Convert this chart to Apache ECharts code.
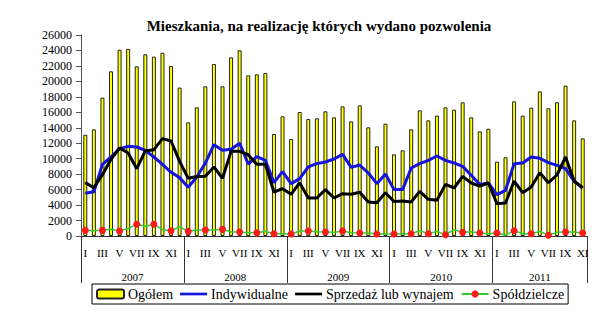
<!DOCTYPE html>
<html>
<head>
<meta charset="utf-8">
<script src="https://cdn.jsdelivr.net/npm/echarts@6/dist/echarts.min.js"></script>
<style>html,body{margin:0;padding:0;background:#fff;}#c{width:600px;height:324px;}</style>
</head>
<body>
<div id="c"></div>
<script>
var years = ['2007', '2008', '2009', '2010', '2011'];
var romans = ['I', 'II', 'III', 'IV', 'V', 'VI', 'VII', 'VIII', 'IX', 'X', 'XI', 'XII'];
var categories = [];
for (var y = 0; y < years.length; y++) {
  var nm = (y === 4) ? 11 : 12;
  for (var m = 0; m < nm; m++) categories.push(years[y] + '-' + romans[m]);
}
var ogolem = [
  13100, 13800, 17900, 21300, 24100, 24200, 21950, 23500, 23200, 23700, 22000, 19200,
  14700, 16640, 19360, 22250, 19360, 23110, 24020, 20780, 20910, 21090, 13190, 15480,
  12550, 16040, 15130, 15220, 16130, 15350, 16770, 14830, 16900, 14060, 11600, 14530,
  10560, 11080, 13800, 16260, 14960, 15570, 16640, 16340, 17290, 15350, 13540, 13880,
  9620, 10180, 17420, 15570, 16600, 18710, 16520, 17290, 19450, 14960, 12630
];
var indywidualne = [
  5520, 5730, 9270, 10220, 11300, 11600, 11510, 11080, 10220, 9270, 8240, 7550,
  6300, 7630, 9440, 11810, 11080, 11210, 11990, 9310, 10260, 9790, 6900, 8320,
  6770, 7420, 8930, 9360, 9570, 9960, 10560, 8880, 9180, 8150, 6770, 8030,
  6000, 6000, 8800, 9360, 9790, 10350, 9790, 9440, 9010, 7850, 6680, 6860,
  5350, 5910, 9360, 9440, 10220, 10050, 9490, 9140, 8710, 7070, 6250
];
var sprzedaz = [
  6900, 6250, 7930, 9920, 11380, 10740, 8710, 11000, 11170, 12590, 12290, 9660,
  7460, 7700, 7720, 8930, 7460, 10950, 10950, 10520, 9270, 9270, 5690, 6120,
  5390, 6900, 4920, 4920, 5990, 4920, 5480, 5390, 5650, 4400, 4310, 5600,
  4470, 4530, 4400, 5780, 4740, 4610, 6680, 6210, 7720, 6860, 6470, 6860,
  4180, 4270, 7110, 5600, 6340, 8190, 6900, 7890, 10220, 7110, 6210
];
var spoldzielcze = [
  730, 690, 730, 860, 650, 990, 1510, 1250, 1510, 820, 690, 1200,
  600, 730, 780, 780, 860, 520, 520, 430, 430, 600, 300, 300,
  260, 650, 650, 560, 520, 470, 650, 430, 390, 390, 260, 260,
  260, 300, 300, 690, 300, 600, 170, 820, 470, 560, 390, 300,
  390, 90, 690, 300, 300, 600, 90, 470, 520, 520, 390
];
var yearBounds = [0, 12, 24, 36, 48, 59];
var yearCenters = [6, 18, 30, 42, 53.5];

var serif = '"Liberation Serif", "Times New Roman", serif';
var lineIcon = 'path://M0,0 L30,0 L30,3 L0,3 Z';
var chart = echarts.init(document.getElementById('c'), null, {renderer: 'svg'});
chart.setOption({
  animation: false,
  backgroundColor: '#fff',
  graphic: [{
    type: 'text', x: 319, y: 26,
    style: {text: 'Mieszkania, na realizację których wydano pozwolenia', font: 'bold 15px ' + serif,
      fill: '#000', align: 'center', verticalAlign: 'middle'}
  }],
  grid: {left: 81, right: 13, top: 35, bottom: 88, containLabel: false},
  legend: {
    left: 92, top: 284, width: 480,
    padding: [3, 4, 3, 4],
    borderColor: '#000', borderWidth: 1,
    itemWidth: 27, itemHeight: 9, itemGap: 7,
    textStyle: {fontFamily: serif, fontSize: 14, color: '#000', padding: [0, 0, 0, -1]},
    data: [
      {name: 'Ogółem'},
      {name: 'Indywidualne', icon: lineIcon},
      {name: 'Sprzedaż lub wynajem', icon: lineIcon},
      {name: 'Spółdzielcze'}
    ]
  },
  xAxis: [{
    type: 'category', data: categories, boundaryGap: true, position: 'bottom',
    axisLine: {lineStyle: {color: '#333', width: 1}},
    axisTick: {show: false},
    axisLabel: {
      interval: function (i) { var k = i < 48 ? i % 12 : i - 48; return k % 2 === 0; },
      formatter: function (v) { return v.split('-')[1]; },
      fontFamily: serif, fontSize: 11, color: '#000', margin: 11
    },
    splitLine: {show: false}
  }, {
    type: 'value', min: 0, max: 59, position: 'bottom',
    axisLine: {show: false},
    splitLine: {show: false},
    axisTick: {show: true, customValues: yearBounds, length: 47, lineStyle: {color: '#333', width: 1}},
    axisLabel: {customValues: yearCenters, fontFamily: serif, fontSize: 11, color: '#000', margin: 35,
      formatter: function (v) { var i = yearCenters.indexOf(v); return i >= 0 ? years[i] : ''; }}
  }],
  yAxis: {
    type: 'value', min: 0, max: 26000, interval: 2000,
    axisLine: {show: true, lineStyle: {color: '#555', width: 1}},
    axisTick: {show: true, length: 5, lineStyle: {color: '#555'}},
    axisLabel: {fontFamily: serif, fontSize: 12, color: '#000', margin: 9,
      formatter: function (v) { return String(v); }},
    splitLine: {show: false}
  },
  series: [{
    name: 'Ogółem', type: 'bar', data: ogolem, barWidth: 4,
    itemStyle: {color: '#ffff00', borderColor: '#222', borderWidth: 1}
  }, {
    name: 'Indywidualne', type: 'line', data: indywidualne, symbol: 'none',
    lineStyle: {color: '#1414dc', width: 3}, itemStyle: {color: '#1414dc'}
  }, {
    name: 'Sprzedaż lub wynajem', type: 'line', data: sprzedaz, symbol: 'none',
    lineStyle: {color: '#000', width: 3}, itemStyle: {color: '#000'}
  }, {
    name: 'Spółdzielcze', type: 'line', data: spoldzielcze, symbol: 'circle', symbolSize: 7,
    lineStyle: {color: '#33cc33', width: 1.5}, itemStyle: {color: '#ff1a1a'}
  }]
});
</script>
</body>
</html>
